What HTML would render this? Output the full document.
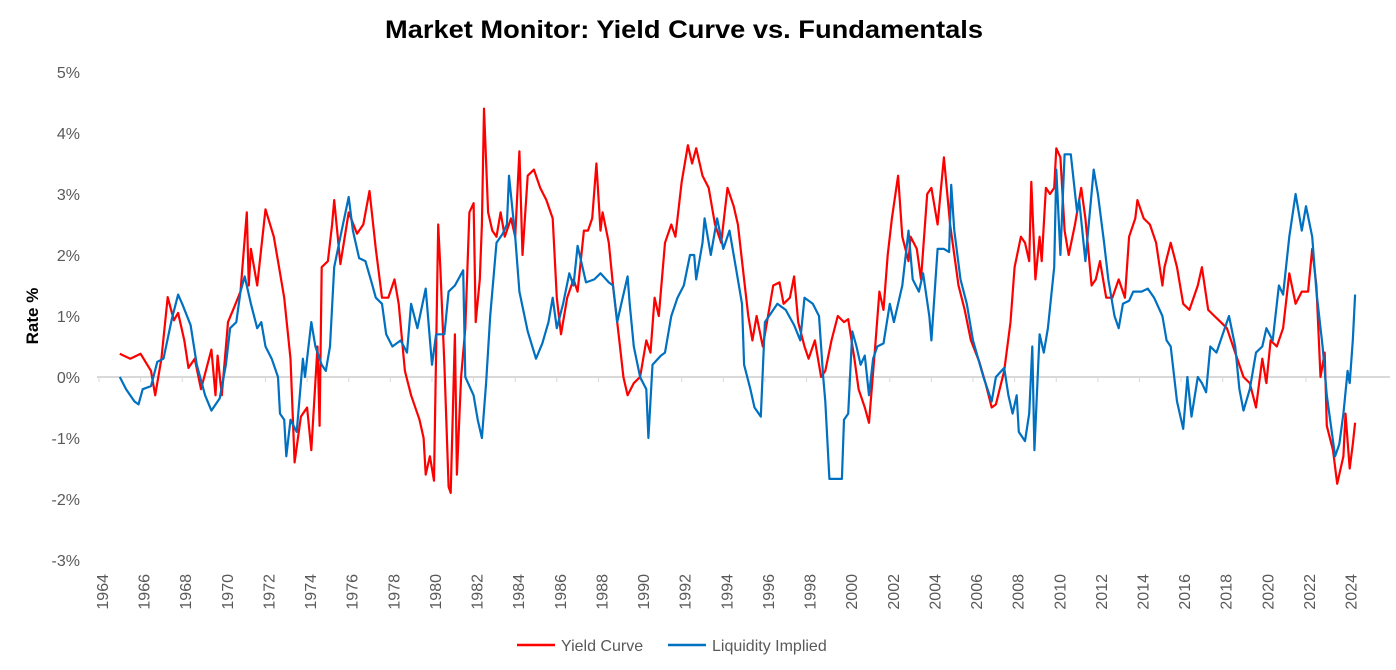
<!DOCTYPE html>
<html><head><meta charset="utf-8"><style>
html,body{margin:0;padding:0;background:#fff;}
svg{display:block;font-family:"Liberation Sans",sans-serif;}
</style></head><body>
<svg id="chart" width="1396" height="670" viewBox="0 0 1396 670">
<text x="684" y="38" text-anchor="middle" font-size="25" font-weight="bold" fill="#000" textLength="598" lengthAdjust="spacingAndGlyphs">Market Monitor: Yield Curve vs. Fundamentals</text>
<text transform="translate(38,316) rotate(-90)" text-anchor="middle" font-size="17" font-weight="bold" fill="#000">Rate %</text>
<g id="yticks"></g>
<g id="xticks"></g>
<g id="series"></g>
<g>
<line x1="517" y1="645" x2="555" y2="645" stroke="#ff0000" stroke-width="2.5"/>
<text x="561" y="651" font-size="16" fill="#595959">Yield Curve</text>
<line x1="668" y1="645" x2="706" y2="645" stroke="#0070c0" stroke-width="2.5"/>
<text x="712" y="651" font-size="16" fill="#595959">Liquidity Implied</text>
</g>
</svg>
<script>
const yTicks=[5,4,3,2,1,0,-1,-2,-3];
const xYears=[1964,1966,1968,1970,1972,1974,1976,1978,1980,1982,1984,1986,1988,1990,1992,1994,1996,1998,2000,2002,2004,2006,2008,2010,2012,2014,2016,2018,2020,2022,2024];
const ycYears=[1965.0,1965.5,1966.0,1966.5,1966.7,1967.0,1967.3,1967.6,1967.8,1968.1,1968.3,1968.6,1968.9,1969.4,1969.6,1969.7,1969.9,1970.2,1970.5,1970.8,1971.1,1971.2,1971.3,1971.6,1972.0,1972.4,1972.6,1972.9,1973.2,1973.4,1973.7,1974.0,1974.2,1974.5,1974.6,1974.7,1975.0,1975.2,1975.3,1975.6,1976.0,1976.4,1976.7,1977.0,1977.3,1977.6,1977.9,1978.2,1978.4,1978.7,1979.0,1979.4,1979.6,1979.7,1979.9,1980.1,1980.3,1980.4,1980.6,1980.8,1980.9,1981.1,1981.2,1981.4,1981.6,1981.8,1982.0,1982.1,1982.3,1982.4,1982.5,1982.7,1982.9,1983.1,1983.3,1983.5,1983.8,1984.0,1984.2,1984.35,1984.6,1984.9,1985.2,1985.5,1985.8,1986.0,1986.2,1986.5,1986.8,1987.0,1987.3,1987.5,1987.7,1987.9,1988.1,1988.2,1988.5,1988.7,1989.0,1989.2,1989.4,1989.7,1990.0,1990.3,1990.5,1990.7,1990.9,1991.2,1991.5,1991.7,1992.0,1992.3,1992.5,1992.7,1993.0,1993.3,1993.6,1993.9,1994.2,1994.5,1994.7,1995.0,1995.2,1995.4,1995.6,1995.9,1996.1,1996.4,1996.7,1996.9,1997.2,1997.4,1997.6,1997.9,1998.1,1998.4,1998.7,1998.9,1999.2,1999.5,1999.8,2000.0,2000.3,2000.5,2000.8,2001.0,2001.3,2001.5,2001.7,2001.9,2002.1,2002.4,2002.6,2002.9,2003.0,2003.3,2003.5,2003.8,2004.0,2004.3,2004.6,2004.9,2005.3,2005.6,2005.9,2006.3,2006.6,2006.9,2007.1,2007.5,2007.8,2008.0,2008.3,2008.5,2008.7,2008.8,2009.0,2009.2,2009.3,2009.5,2009.7,2009.9,2010.0,2010.2,2010.4,2010.6,2010.9,2011.2,2011.4,2011.7,2011.9,2012.1,2012.4,2012.7,2013.0,2013.3,2013.5,2013.8,2013.9,2014.2,2014.5,2014.8,2015.1,2015.2,2015.5,2015.8,2016.1,2016.4,2016.8,2017.0,2017.3,2017.6,2017.9,2018.2,2018.6,2019.0,2019.3,2019.6,2019.9,2020.1,2020.3,2020.6,2020.9,2021.2,2021.5,2021.8,2022.1,2022.3,2022.5,2022.7,2022.9,2023.0,2023.3,2023.5,2023.8,2023.9,2024.1,2024.25,2024.36];
const ycValues=[0.38,0.3,0.38,0.1,-0.3,0.3,1.31,0.93,1.05,0.6,0.15,0.3,-0.2,0.45,-0.3,0.35,-0.3,0.9,1.15,1.4,2.7,1.5,2.1,1.5,2.75,2.3,1.9,1.3,0.3,-1.4,-0.65,-0.5,-1.2,0.5,-0.8,1.8,1.9,2.5,2.9,1.85,2.7,2.35,2.5,3.05,2.1,1.3,1.3,1.6,1.2,0.1,-0.3,-0.7,-1.0,-1.6,-1.3,-1.7,2.5,1.8,0.2,-1.8,-1.9,0.7,-1.6,0.0,0.8,2.7,2.85,0.9,1.6,2.5,4.4,2.7,2.4,2.3,2.7,2.3,2.6,2.3,3.7,2.0,3.3,3.4,3.1,2.9,2.6,1.3,0.7,1.3,1.6,1.4,2.4,2.4,2.6,3.5,2.4,2.7,2.2,1.5,0.6,0.0,-0.3,-0.1,0.0,0.6,0.4,1.3,1.0,2.2,2.5,2.3,3.2,3.8,3.5,3.75,3.3,3.1,2.5,2.2,3.1,2.8,2.5,1.6,1.0,0.6,1.0,0.5,0.9,1.5,1.55,1.2,1.3,1.65,0.9,0.5,0.3,0.6,0.0,0.1,0.6,1.0,0.9,0.95,0.3,-0.2,-0.5,-0.75,0.5,1.4,1.1,2.0,2.6,3.3,2.3,1.9,2.3,2.1,1.6,3.0,3.1,2.5,3.6,2.5,1.5,1.1,0.6,0.25,-0.1,-0.5,-0.45,0.1,0.9,1.8,2.3,2.2,1.9,3.2,1.6,2.3,1.9,3.1,3.0,3.1,3.75,3.6,2.4,2.0,2.5,3.1,2.6,1.5,1.6,1.9,1.3,1.3,1.6,1.3,2.3,2.6,2.9,2.6,2.5,2.2,1.5,1.8,2.2,1.8,1.2,1.1,1.5,1.8,1.1,1.0,0.9,0.8,0.4,0.0,-0.1,-0.5,0.3,-0.1,0.6,0.5,0.8,1.7,1.2,1.4,1.4,2.1,1.5,0.0,0.4,-0.8,-1.2,-1.75,-1.3,-0.6,-1.5,-1.1,-0.75];
const liqYears=[1965.0,1965.3,1965.7,1965.9,1966.1,1966.5,1966.8,1967.1,1967.5,1967.8,1968.0,1968.4,1968.7,1969.1,1969.4,1969.8,1970.1,1970.3,1970.6,1970.8,1971.0,1971.3,1971.6,1971.8,1972.0,1972.3,1972.6,1972.7,1972.9,1973.0,1973.2,1973.5,1973.8,1973.9,1974.2,1974.4,1974.7,1974.9,1975.1,1975.3,1975.6,1976.0,1976.2,1976.5,1976.8,1977.1,1977.3,1977.6,1977.8,1978.1,1978.5,1978.8,1979.0,1979.3,1979.7,1980.0,1980.2,1980.6,1980.8,1981.1,1981.5,1981.6,1982.0,1982.2,1982.4,1982.6,1982.8,1983.1,1983.4,1983.6,1983.7,1984.0,1984.2,1984.6,1985.0,1985.3,1985.6,1985.8,1986.0,1986.3,1986.6,1986.8,1987.0,1987.4,1987.8,1988.1,1988.5,1988.7,1988.9,1989.1,1989.4,1989.5,1989.7,1990.0,1990.3,1990.4,1990.6,1991.0,1991.2,1991.5,1991.8,1992.1,1992.4,1992.6,1992.7,1993.0,1993.1,1993.4,1993.7,1994.0,1994.3,1994.6,1994.9,1995.0,1995.3,1995.5,1995.8,1996.0,1996.2,1996.6,1997.0,1997.4,1997.7,1997.9,1998.3,1998.6,1998.8,1998.9,1999.1,1999.7,1999.8,2000.0,2000.2,2000.4,2000.6,2000.8,2001.0,2001.2,2001.4,2001.7,2002.0,2002.2,2002.6,2002.9,2003.1,2003.4,2003.6,2003.9,2004.0,2004.3,2004.6,2004.85,2004.95,2005.1,2005.4,2005.7,2006.0,2006.5,2006.9,2007.1,2007.5,2007.7,2007.9,2008.1,2008.2,2008.5,2008.7,2008.85,2008.95,2009.2,2009.4,2009.6,2009.9,2010.0,2010.2,2010.4,2010.7,2011.0,2011.1,2011.4,2011.8,2012.0,2012.3,2012.5,2012.8,2013.0,2013.2,2013.5,2013.7,2014.1,2014.4,2014.7,2015.1,2015.3,2015.5,2015.8,2016.1,2016.3,2016.5,2016.8,2017.0,2017.2,2017.4,2017.7,2018.0,2018.3,2018.6,2018.8,2019.0,2019.3,2019.6,2019.9,2020.1,2020.4,2020.7,2020.9,2021.2,2021.5,2021.8,2022.0,2022.3,2022.5,2022.8,2023.0,2023.4,2023.6,2023.8,2024.0,2024.1,2024.25,2024.36];
const liqValues=[0.0,-0.2,-0.4,-0.45,-0.2,-0.15,0.25,0.3,0.95,1.35,1.2,0.85,0.2,-0.3,-0.55,-0.35,0.2,0.8,0.9,1.4,1.65,1.2,0.8,0.9,0.5,0.3,0.0,-0.6,-0.7,-1.3,-0.7,-0.9,0.3,0.0,0.9,0.5,0.2,0.1,0.5,1.8,2.3,2.95,2.4,1.95,1.9,1.55,1.3,1.2,0.7,0.5,0.6,0.4,1.2,0.8,1.45,0.2,0.7,0.7,1.4,1.5,1.75,0.0,-0.3,-0.7,-1.0,-0.1,1.0,2.2,2.35,2.5,3.3,2.3,1.4,0.75,0.3,0.55,0.9,1.3,0.8,1.2,1.7,1.5,2.15,1.55,1.6,1.7,1.55,1.5,0.9,1.2,1.65,1.2,0.5,0.0,-0.2,-1.0,0.2,0.35,0.4,1.0,1.3,1.5,2.0,2.0,1.6,2.2,2.6,2.0,2.6,2.1,2.4,1.8,1.2,0.2,-0.2,-0.5,-0.65,0.9,1.0,1.2,1.1,0.85,0.6,1.3,1.2,1.0,0.0,-0.4,-1.67,-1.67,-0.7,-0.6,0.75,0.5,0.2,0.35,-0.3,0.3,0.5,0.55,1.2,0.9,1.5,2.4,1.6,1.4,1.7,1.0,0.6,2.1,2.1,2.05,3.15,2.4,1.6,1.2,0.6,0.0,-0.4,0.0,0.15,-0.3,-0.6,-0.3,-0.9,-1.05,-0.6,0.5,-1.2,0.7,0.4,0.8,1.8,3.4,2.0,3.65,3.65,2.7,2.9,1.9,3.4,3.0,2.2,1.6,1.0,0.8,1.2,1.25,1.4,1.4,1.45,1.3,1.0,0.6,0.5,-0.4,-0.85,0.0,-0.65,0.0,-0.1,-0.25,0.5,0.4,0.7,1.0,0.5,-0.2,-0.55,-0.2,0.4,0.5,0.8,0.6,1.5,1.35,2.3,3.0,2.4,2.8,2.3,1.4,0.5,-0.3,-1.3,-1.1,-0.6,0.1,-0.1,0.6,1.35,1.3];

const X0=99, PXY=20.81, Y0=377, PXV=61;
const xs=y=>X0+(y-1964)*PXY;
const ys=v=>Y0-v*PXV;
const NS='http://www.w3.org/2000/svg';
const yt=document.getElementById('yticks');
yTicks.forEach(v=>{
  const t=document.createElementNS(NS,'text');
  
  
  t.setAttribute('x',80);t.setAttribute('y',ys(v)+6);
  t.setAttribute('text-anchor','end');t.setAttribute('font-size','16');t.setAttribute('fill','#595959');
  t.textContent=v+'%';yt.appendChild(t);
});
const xt=document.getElementById('xticks');
const zl=document.createElementNS(NS,'line');


zl.setAttribute('x1',97);zl.setAttribute('x2',1390);zl.setAttribute('y1',ys(0));zl.setAttribute('y2',ys(0));
zl.setAttribute('stroke','#d9d9d9');zl.setAttribute('stroke-width','2');xt.appendChild(zl);
xYears.forEach(yr=>{
  const tk=document.createElementNS(NS,'line');
  
  
  tk.setAttribute('x1',xs(yr));tk.setAttribute('x2',xs(yr));tk.setAttribute('y1',ys(0));tk.setAttribute('y2',ys(0)+5);
  tk.setAttribute('stroke','#d9d9d9');tk.setAttribute('stroke-width','1');xt.appendChild(tk);
  const t=document.createElementNS(NS,'text');
  
  
  const x=xs(yr)+9, y=574;
  t.setAttribute('transform','translate('+x+','+y+') rotate(-90)');
  t.setAttribute('text-anchor','end');t.setAttribute('font-size','16');t.setAttribute('fill','#595959');
  t.textContent=yr;xt.appendChild(t);
});
const sg=document.getElementById('series');
function line(years,vals,color,name){
  const p=document.createElementNS(NS,'polyline');
  
  
  p.setAttribute('points',years.map((y,i)=>xs(y).toFixed(1)+','+ys(vals[i]).toFixed(1)).join(' '));
  p.setAttribute('fill','none');p.setAttribute('stroke',color);p.setAttribute('stroke-width','2.2');
  p.setAttribute('stroke-linejoin','round');
  sg.appendChild(p);
}
line(ycYears,ycValues,'#ff0000','yield-curve-line');
line(liqYears,liqValues,'#0070c0','liquidity-implied-line');
</script>
</body></html>
